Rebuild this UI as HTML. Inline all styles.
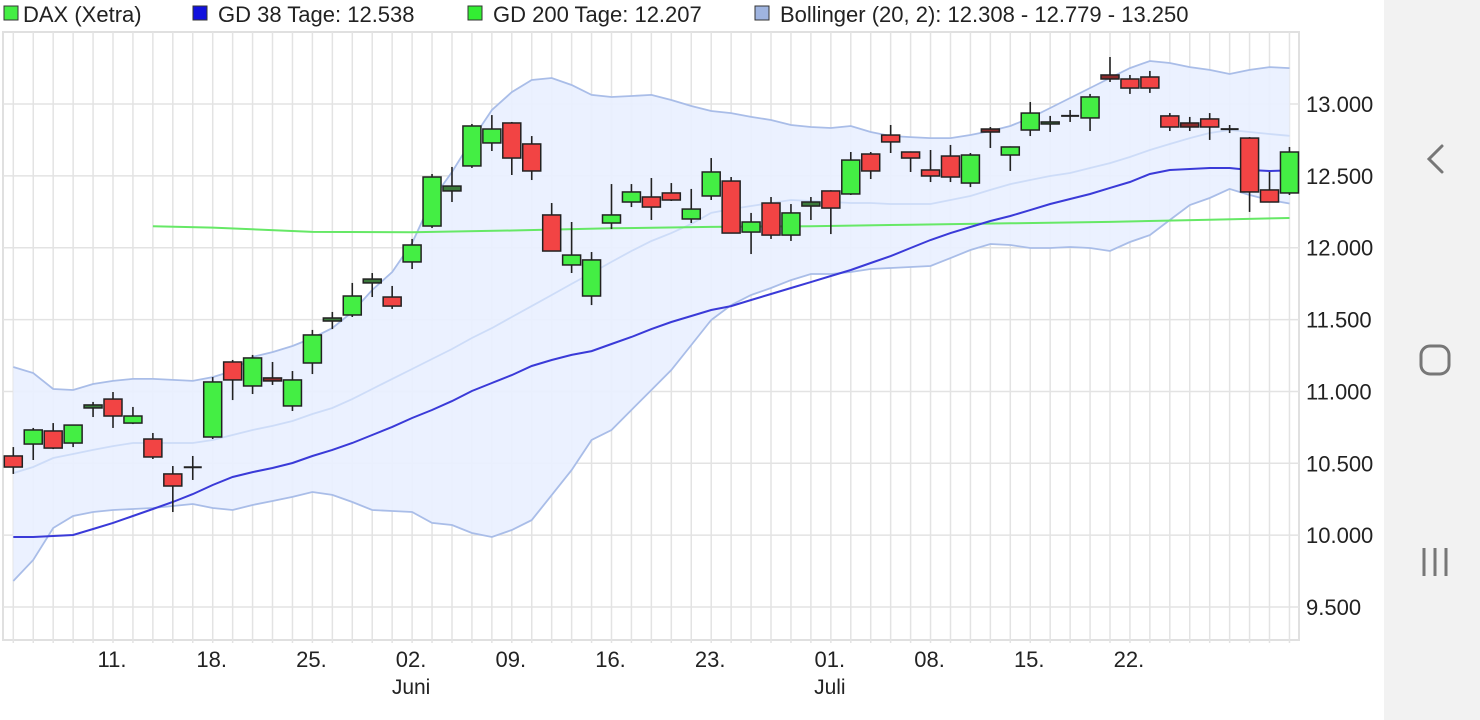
<!DOCTYPE html>
<html><head><meta charset="utf-8">
<style>
html,body{margin:0;padding:0;background:#fff;width:1480px;height:720px;overflow:hidden;font-family:"Liberation Sans",sans-serif;}
svg{display:block}
</style></head>
<body>
<svg id="chart" width="1480" height="720" xmlns="http://www.w3.org/2000/svg">
  <g id="legend" font-family="Liberation Sans, sans-serif" font-size="22" fill="#222">
    <g><rect x="4" y="6" width="14" height="14" fill="#44ee44" stroke="#333" stroke-width="1"/><text x="23" y="22">DAX (Xetra)</text></g>
    <g><rect x="193" y="6" width="14" height="14" fill="#1111dd" stroke="#333" stroke-width="1"/><text x="218" y="22">GD 38 Tage: 12.538</text></g>
    <g><rect x="468" y="6" width="14" height="14" fill="#33ee33" stroke="#333" stroke-width="1"/><text x="493" y="22">GD 200 Tage: 12.207</text></g>
    <g><rect x="755" y="6" width="14" height="14" fill="#9fb4e0" stroke="#333" stroke-width="1"/><text x="780" y="22">Bollinger (20, 2): 12.308 - 12.779 - 13.250</text></g>
  </g>
  <g id="grid"></g>
  <g id="bands"></g>
  <g id="lines"></g>
  <g id="candles"></g>
  <g id="axes" font-family="Liberation Sans, sans-serif" fill="#222"></g>
  <g>
    <rect x="1384" y="0" width="96" height="720" fill="#f2f2f2"/>
    <path d="M1442 146 L1429 159 L1442 172" fill="none" stroke="#777" stroke-width="3" stroke-linecap="round"/>
    <rect x="1421" y="346" width="28" height="28" rx="9" fill="none" stroke="#777" stroke-width="3"/>
    <g stroke="#777" stroke-width="3">
      <line x1="1424" y1="548" x2="1424" y2="576"/><line x1="1435" y1="548" x2="1435" y2="576"/><line x1="1446" y1="548" x2="1446" y2="576"/>
    </g>
  </g>
</svg>
<script>
const opens  = [10551,10634,10725,10641,10885,10947,10780,10669,10426,10470,10683,11205,11038,11094,10899,11198,11490,11532,11755,11657,11901,12151,12395,12569,12729,12868,12722,12228,11880,11664,12172,12318,12353,12381,12200,12360,12464,12109,12311,12088,12290,12395,12374,12652,12784,12666,12541,12638,12450,12826,12645,12819,12861,12915,12903,13202,13174,13188,12917,12868,12896,12828,12763,12402,12381];
const highs  = [10613,10746,10780,10766,10927,10996,10892,10711,10481,10551,11100,11219,11254,11205,11142,11428,11553,11755,11824,11734,12061,12513,12562,12861,12923,12875,12777,12311,12179,11970,12443,12443,12485,12450,12409,12624,12492,12242,12353,12304,12353,12400,12666,12666,12854,12670,12680,12715,12659,12840,12705,13014,12917,12958,13070,13327,13202,13230,12937,12910,12937,12854,12770,12527,12701];
const lows   = [10426,10523,10599,10613,10822,10746,10773,10530,10161,10384,10669,10940,10982,11045,10864,11121,11434,11518,11657,11574,11852,12137,12318,12555,12673,12506,12471,11975,11824,11601,12130,12283,12193,12325,12172,12332,12100,11956,12061,12047,12193,12095,12367,12478,12659,12527,12457,12457,12422,12694,12534,12777,12805,12875,12812,13153,13070,13077,12812,12812,12750,12798,12249,12315,12367];
const closes = [10474,10732,10606,10766,10906,10829,10829,10544,10342,10475,11066,11080,11233,11073,11080,11393,11511,11664,11782,11594,12019,12492,12429,12847,12826,12624,12534,11977,11949,11915,12228,12388,12283,12332,12269,12527,12102,12179,12088,12242,12318,12276,12610,12534,12736,12624,12499,12492,12645,12805,12701,12937,12875,12920,13049,13174,13111,13111,12840,12840,12840,12823,12388,12318,12666];
const ma38 = [9987,9987,9994,10001,10043,10085,10133,10182,10231,10286,10349,10405,10439,10467,10502,10551,10593,10641,10697,10753,10815,10871,10933,11003,11059,11114,11177,11219,11254,11281,11330,11379,11434,11483,11525,11567,11594,11636,11678,11720,11761,11803,11845,11894,11942,11998,12054,12102,12144,12186,12221,12262,12304,12339,12374,12416,12457,12513,12541,12548,12555,12555,12541,12534,12538];
const ma200Idx = [7,10,15,20,25,30,35,40,45,50,55,60,64];
const ma200 = [12150,12140,12110,12108,12120,12135,12145,12150,12160,12170,12180,12195,12207];
const bbUpper = [11170,11128,11017,11010,11052,11073,11087,11087,11080,11073,11100,11142,11240,11274,11316,11372,11441,11553,11706,11831,12033,12332,12527,12750,12958,13083,13167,13181,13132,13063,13049,13056,13063,13028,12986,12951,12937,12910,12889,12854,12840,12833,12847,12805,12777,12770,12763,12763,12784,12812,12847,12903,12972,13042,13111,13181,13250,13299,13285,13257,13237,13209,13237,13257,13250];
const bbMid = [10432,10474,10537,10565,10593,10620,10641,10641,10641,10641,10662,10697,10732,10760,10794,10843,10885,10947,11017,11087,11156,11226,11295,11372,11441,11518,11594,11671,11748,11824,11901,11977,12047,12102,12165,12242,12269,12290,12311,12332,12325,12318,12311,12311,12304,12304,12304,12332,12360,12402,12443,12471,12499,12520,12555,12589,12631,12680,12722,12763,12798,12819,12805,12791,12779];
const bbLower = [9681,9827,10050,10133,10161,10175,10182,10189,10203,10217,10189,10175,10210,10238,10266,10300,10280,10231,10175,10168,10161,10085,10071,10015,9987,10036,10105,10279,10453,10662,10732,10871,11010,11149,11323,11497,11601,11671,11720,11775,11817,11817,11831,11852,11859,11866,11873,11928,11984,12026,12019,11998,11998,12005,11998,11977,12040,12088,12193,12297,12346,12409,12367,12332,12308];
const yTicks = [9500,10000,10500,11000,11500,12000,12500,13000];
const yTickLabels = ["9.500","10.000","10.500","11.000","11.500","12.000","12.500","13.000"];
const xTickIdx = [5,10,15,20,25,30,35,41,46,51,56];
const xTickLabels = ["11.","18.","25.","02.","09.","16.","23.","01.","08.","15.","22."];
const monthIdx = [20,41];
const monthLabels = ["Juni","Juli"];

const NS = "http://www.w3.org/2000/svg";
const PL = 3, PR = 1299, PT = 32, PB = 640;
function xs(i){ return 13.3 + i * 19.94; }
function ys(v){ return 104 + (13000 - v) / 500 * 71.86; }
function mk(tag, attrs, parent){ const e = document.createElementNS(NS, tag); for (const k in attrs) e.setAttribute(k, attrs[k]); parent.appendChild(e); return e; }

const grid = document.getElementById('grid');
const gbg = mk('rect', {x:PL, y:PT, width:PR-PL, height:PB-PT, fill:'#fff', stroke:'#e0e0e0', 'stroke-width':2}, grid);


for (let i = 0; i < opens.length; i++) {
  const l = mk('line', {x1:xs(i), x2:xs(i), y1:PT, y2:PB+3, stroke:'#e3e3e3', 'stroke-width':1.5}, grid);
  
  
}
const axes = document.getElementById('axes');
yTicks.forEach((v, k) => {
  const l = mk('line', {x1:PL, x2:PR, y1:ys(v), y2:ys(v), stroke:'#e3e3e3', 'stroke-width':1.5}, grid);
  
  
  const t = mk('text', {x:1306, y:ys(v)+8, 'font-size':22}, axes);
  t.textContent = yTickLabels[k];
  
  
});
xTickIdx.forEach((i, k) => {
  const t = mk('text', {x:xs(i)-1, y:667, 'font-size':22, 'text-anchor':'middle'}, axes);
  t.textContent = xTickLabels[k];
  
  
});
monthIdx.forEach((i, k) => {
  const t = mk('text', {x:xs(i)-1, y:694, 'font-size':21, 'text-anchor':'middle'}, axes);
  t.textContent = monthLabels[k];
  
  
});

const bands = document.getElementById('bands');
let up = bbUpper.map((v,i)=>xs(i).toFixed(1)+','+ys(v).toFixed(1));
let lo = bbLower.map((v,i)=>xs(i).toFixed(1)+','+ys(v).toFixed(1)).reverse();
const fill = mk('polygon', {points: up.concat(lo).join(' '), fill:'#e9efff', 'fill-opacity':0.9}, bands);


[[bbUpper,'bollinger-upper','#a9bde8'],[bbLower,'bollinger-lower','#a9bde8'],[bbMid,'bollinger-middle','#cddcf8']].forEach(([arr,name,col])=>{
  const p = mk('polyline', {points: arr.map((v,i)=>xs(i).toFixed(1)+','+ys(v).toFixed(1)).join(' '), fill:'none', stroke:col, 'stroke-width':1.8}, bands);
  
  
});

const lines = document.getElementById('lines');
const g200 = mk('polyline', {points: ma200.map((v,k)=>xs(ma200Idx[k]).toFixed(1)+','+ys(v).toFixed(1)).join(' '), fill:'none', stroke:'#66e866', 'stroke-width':2}, lines);


const g38 = mk('polyline', {points: ma38.map((v,i)=>xs(i).toFixed(1)+','+ys(v).toFixed(1)).join(' '), fill:'none', stroke:'#3a3ad8', 'stroke-width':2}, lines);



const cg = document.getElementById('candles');
for (let i = 0; i < opens.length; i++) {
  const g = mk('g', {}, cg);
  
  
  const x = xs(i);
  mk('line', {x1:x, x2:x, y1:ys(highs[i]), y2:ys(lows[i]), stroke:'#222', 'stroke-width':1.6}, g);
  const o = opens[i], c = closes[i];
  const top = ys(Math.max(o,c)), bot = ys(Math.min(o,c));
  if (Math.abs(o - c) < 8) {
    mk('line', {x1:x-9, x2:x+9, y1:(top+bot)/2, y2:(top+bot)/2, stroke:'#222', 'stroke-width':2}, g);
  } else {
    const h = Math.max(bot - top, 2);
    const col = c >= o ? (h < 5 ? '#3b7a3b' : '#44ee44') : (h < 5 ? '#8a2a2a' : '#f24444');
    mk('rect', {x:x-9, y:top, width:18, height:h, fill:col, stroke:'#222', 'stroke-width':1.5}, g);
  }
}
</script>
</body></html>
